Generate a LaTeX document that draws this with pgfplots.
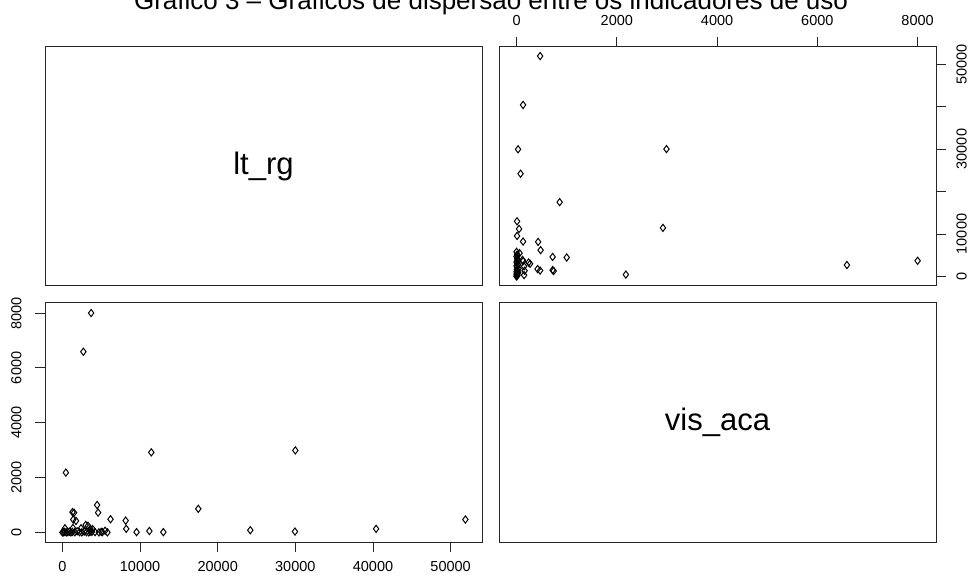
\documentclass[border=0pt]{standalone}
\usepackage{fontspec}
\setmainfont{Liberation Sans}
\newfontfamily\tickfont{Liberation Sans}
\usepackage{pgfplots}
\pgfplotsset{compat=1.18}
\usepackage{pgfplotstable}
\pgfplotstableread{
lt vis
3700 8000
2700 6590
450 2180
11450 2920
4470 1000
1300 740
4600 720
17500 860
1400 470
6200 480
8150 430
8220 130
9550 10
11200 50
13000 10
24200 80
5150 10
5500 60
3000 270
30000 2990
29950 30
40400 130
51900 470
3600 130
3900 120
3300 240
1350 160
330 150
3600 30
1750 420
1500 720
0 0
150 5
300 20
500 0
700 10
900 30
1100 0
1300 20
1600 5
1900 40
2200 10
2500 0
2800 30
3100 10
3400 0
3800 20
4200 10
4700 0
5000 20
5800 0
2400 150
}\data
\pgfplotsset{
 panel/.style={scale only axis, width=437bp, height=239bp,
   axis line style={line width=1bp, black!85},
   tick style={line width=0.9bp, black!85},
   tick align=outside, major tick length=10bp,
   scaled ticks=false,
   ticklabel style={font=\fontsize{14.5bp}{15bp}\tickfont},
   clip=false},
 pts/.style={only marks, mark=diamond, mark size=3.6bp, mark options={line width=1bp, draw=black, fill=none}},
}
\begin{document}
\begin{tikzpicture}[x=1bp,y=1bp]
\node[anchor=base] at (491bp,566.5bp) {\fontsize{26bp}{28bp}\selectfont Gráfico 3 – Gráficos de dispersão entre os indicadores de uso};
% top-left
\begin{axis}[panel, at={(45bp,290bp)}, anchor=south west, xmin=0,xmax=1,ymin=0,ymax=1, xtick=\empty, ytick=\empty]
\node at (axis cs:0.5,0.5) {\fontsize{31bp}{34bp}\selectfont lt\_rg};
\end{axis}
% top-right
\begin{axis}[panel, at={(499bp,290bp)}, anchor=south west,
  xmin=-350, xmax=8367, ymin=-2240, ymax=54040,
  xtick={0,2000,4000,6000,8000}, xticklabels={0,2000,4000,6000,8000},
  xtick pos=right, xticklabel pos=right,
  xticklabel style={yshift=8bp},
  ytick={0,10000,20000,30000,40000,50000}, yticklabels={0,10000,{},30000,{},50000},
  ytick pos=right, yticklabel pos=right,
  yticklabel style={xshift=7bp, rotate=90, anchor=north}]
\addplot[pts] table[x=vis, y=lt] {\data};
\end{axis}
% bottom-left
\begin{axis}[panel, at={(45bp,34bp)}, anchor=south west,
  xmin=-2240, xmax=54040, ymin=-350, ymax=8367,
  xtick={0,10000,20000,30000,40000,50000}, xticklabels={0,10000,20000,30000,40000,50000},
  xtick pos=left, xticklabel pos=left,
  xticklabel style={yshift=-6bp},
  ytick={0,2000,4000,6000,8000}, yticklabels={0,2000,4000,6000,8000},
  ytick pos=left, yticklabel pos=left,
  yticklabel style={xshift=-10bp, rotate=90, anchor=south}]
\addplot[pts] table[x=lt, y=vis] {\data};
\end{axis}
% bottom-right
\begin{axis}[panel, at={(499bp,34bp)}, anchor=south west, xmin=0,xmax=1,ymin=0,ymax=1, xtick=\empty, ytick=\empty]
\node at (axis cs:0.5,0.5) {\fontsize{31bp}{34bp}\selectfont vis\_aca};
\end{axis}
\pgfresetboundingbox
\useasboundingbox (0,0) rectangle (973bp,576bp);
\end{tikzpicture}
\end{document}
